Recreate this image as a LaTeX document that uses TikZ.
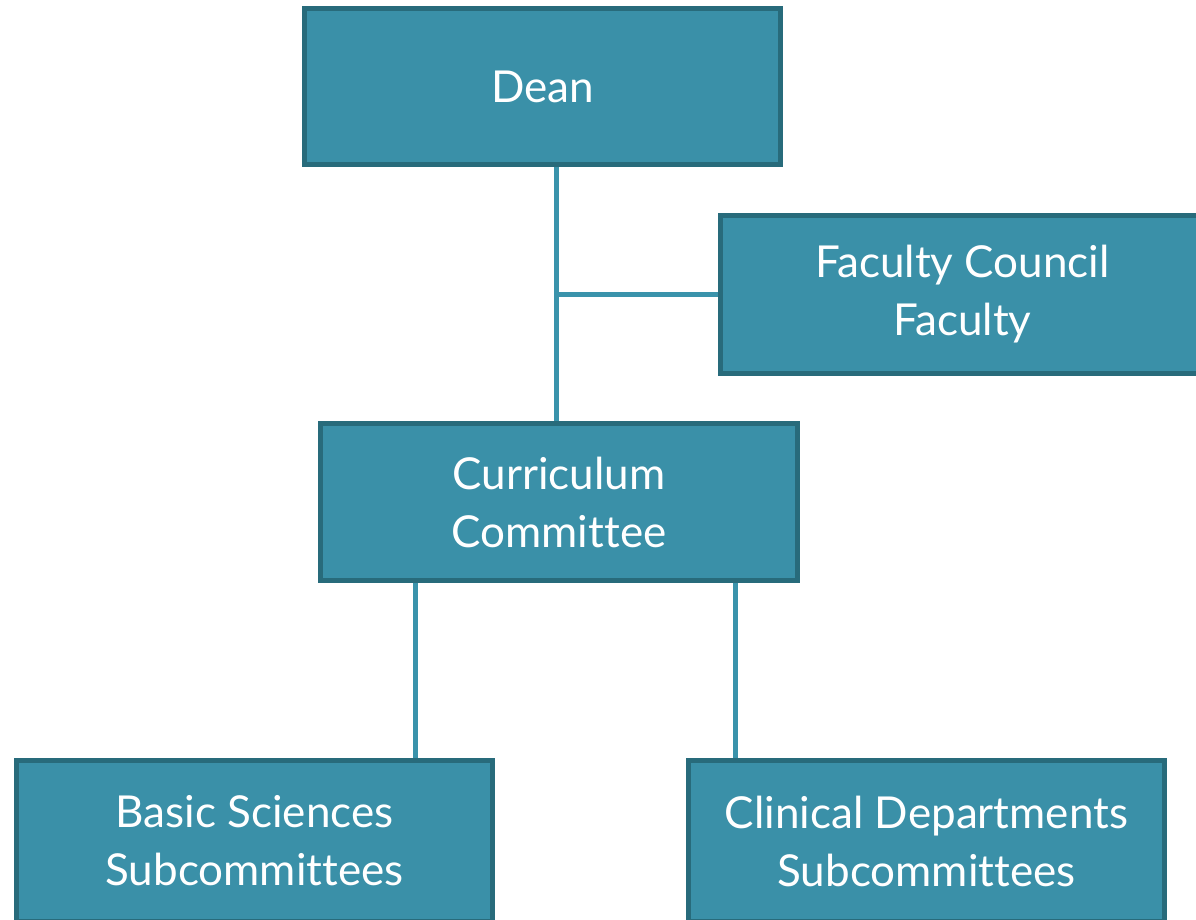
\documentclass[tikz,border=0pt]{standalone}
\usepackage{fontspec}
\setmainfont{Lato}[Ligatures=NoCommon]
\usetikzlibrary{calc}
\definecolor{boxfill}{HTML}{3A90A8}
\definecolor{boxline}{HTML}{286B7B}
\definecolor{conn}{HTML}{3A93AB}
\begin{document}
\begin{tikzpicture}[x=1pt,y=-1pt,
  orgbox/.style={rectangle, fill=boxfill, draw=boxline, line width=5pt,
    text=white, align=center, inner sep=0pt,
    font=\fontsize{44}{58}\selectfont},
  link/.style={draw=conn, line width=5pt}]
\useasboundingbox (0,0) rectangle (1196,920);
\clip (0,0) rectangle (1196,920);
% nodes
\node[orgbox, minimum width=476pt, minimum height=156pt] (dean) at (542.5,86.5) {Dean};
\node[orgbox, minimum width=484pt, minimum height=158pt] (fac) at (962.5,294.5) {Faculty Council\\Faculty};
\node[orgbox, minimum width=477pt, minimum height=157pt] (cur) at (559,502) {Curriculum\\Committee};
\node[orgbox, minimum width=476pt, minimum height=161pt] (basic) at (254.5,841) {Basic Sciences\\Subcommittees};
\node[orgbox, minimum width=476pt, minimum height=161pt] (clin) at (926.5,841) {Clinical Departments\\Subcommittees};
\coordinate (top) at ($(dean.south west)+(254,0)$);
\coordinate (mid) at ($(cur.north west)+(238,0)$);
\coordinate (bl) at ($(cur.south west)+(97,0)$);
\coordinate (br) at ($(cur.south west)+(417,0)$);
% connectors
\draw[link] (top) -- (mid);
\draw[link] (top |- fac.west) -- (fac.west);
\draw[link] (bl) -- (bl |- basic.north);
\draw[link] (br) -- (br |- clin.north);
% redraw boxes over connector ends
\node[orgbox, minimum width=476pt, minimum height=156pt] at (dean) {Dean};
\node[orgbox, minimum width=484pt, minimum height=158pt] at (fac) {Faculty Council\\Faculty};
\node[orgbox, minimum width=477pt, minimum height=157pt] at (cur) {Curriculum\\Committee};
\node[orgbox, minimum width=476pt, minimum height=161pt] at (basic) {Basic Sciences\\Subcommittees};
\node[orgbox, minimum width=476pt, minimum height=161pt] at (clin) {Clinical Departments\\Subcommittees};
\end{tikzpicture}
\end{document}
